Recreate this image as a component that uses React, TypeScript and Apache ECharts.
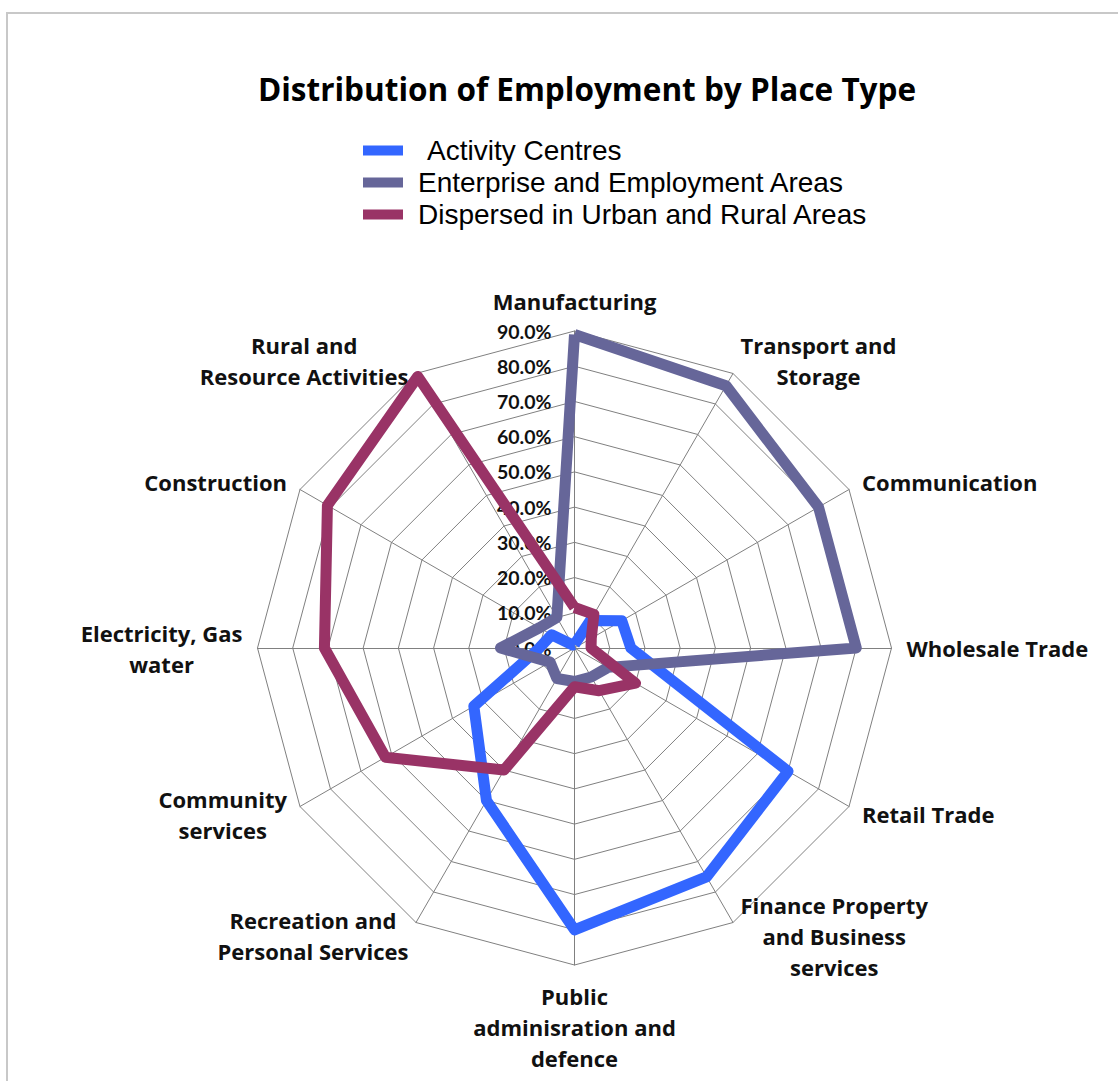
import React, { useEffect, useRef } from "react";
import * as echarts from "echarts";

// Categories in clockwise order starting at the top
const categories = [
  "Manufacturing",
  "Transport and\nStorage",
  "Communication",
  "Wholesale Trade",
  "Retail Trade",
  "Finance Property\nand Business\nservices",
  "Public\nadminisration and\ndefence",
  "Recreation and\nPersonal Services",
  "Community\nservices",
  "Electricity, Gas\nwater",
  "Construction",
  "Rural and\nResource Activities",
];

const seriesNames = [
  "Activity Centres",
  "Enterprise and Employment Areas",
  "Dispersed in Urban and Rural Areas",
];

// Values (share, 0..1) in the same clockwise order as categories
const activityCentres = [0.01, 0.09, 0.155, 0.16, 0.70, 0.75, 0.80, 0.50, 0.33, 0.10, 0.075, 0.01];
const enterpriseAreas = [0.89, 0.86, 0.80, 0.80, 0.11, 0.095, 0.095, 0.10, 0.08, 0.21, 0.115, 0.10];
const dispersedAreas = [0.115, 0.11, 0.055, 0.047, 0.20, 0.14, 0.11, 0.40, 0.62, 0.71, 0.81, 0.89];

const axisMin = 0;
const axisMax = 0.9;
const splitCount = 9;

const colors = ["#3366FF", "#666699", "#993366"];

// ECharts lays radar indicators out counter-clockwise; the reference runs clockwise.
function toCCW<T>(arr: T[]): T[] {
  return [arr[0], ...arr.slice(1).reverse()];
}

const nameFont = "'Open Sans', Lato, sans-serif";
const tickFont = "Lato, 'Open Sans', sans-serif";
const legendFont = "'Liberation Sans', Arial, sans-serif";

export default function App() {
  const ref = useRef<HTMLDivElement>(null);

  useEffect(() => {
    if (!ref.current) return;
    const chart = echarts.init(ref.current, undefined, { renderer: "svg" });

    const indicator = toCCW(categories).map((name, i) => {
      const ind: any = { name, min: axisMin, max: axisMax };
      if (i === 0) {
        ind.axisLabel = {
          show: true,
          formatter: (v: number) => (v * 100).toFixed(1) + "%",
          fontFamily: tickFont,
          fontWeight: "bold",
          fontSize: 19.5,
          color: "#111",
          margin: 23,
        };
      }
      return ind;
    });

    const valueSets = [activityCentres, enterpriseAreas, dispersedAreas];

    const option: any = {
      animation: false,
      backgroundColor: "#ffffff",
      title: {
        text: "Distribution of Employment by Place Type",
        left: 587,
        top: 72,
        padding: 0,
        textAlign: "center",
        textStyle: {
          fontFamily: nameFont,
          fontWeight: "bold",
          fontSize: 31.5,
          color: "#000",
        },
      },
      legend: {
        orient: "vertical",
        left: 363,
        top: 135,
        padding: 0,
        itemWidth: 40,
        itemHeight: 10,
        itemGap: 1,
        icon: "rect",
        data: seriesNames,
        formatter: (name: string) =>
          name === seriesNames[0] ? `{a|${name}}` : `{b|${name}}`,
        textStyle: {
          fontFamily: legendFont,
          fontSize: 28,
          color: "#000",
          lineHeight: 31,
          rich: {
            a: { padding: [0, 0, 0, 19], fontSize: 28, lineHeight: 31, fontFamily: legendFont },
            b: { padding: [0, 0, 0, 10], fontSize: 28, lineHeight: 31, fontFamily: legendFont },
          },
        },
      },
      graphic: [
        {
          type: "rect",
          silent: true,
          shape: { x: 7, y: 13, width: 1300, height: 1300 },
          style: { fill: "none", stroke: "#c8c8c8", lineWidth: 2 },
        },
      ],
      radar: {
        center: [574.5, 648],
        radius: 317,
        startAngle: 90,
        splitNumber: splitCount,
        shape: "polygon",
        axisNameGap: 15,
        axisName: {
          color: "#111",
          fontFamily: nameFont,
          fontWeight: "bold",
          fontSize: 22,
          lineHeight: 31,
          formatter: (name: string) =>
            name
              .split("\n")
              .map((l) => `{c|${l}}`)
              .join("\n"),
          rich: {
            c: {
              align: "center",
              color: "#111",
              fontFamily: nameFont,
              fontWeight: "bold",
              fontSize: 22,
              lineHeight: 31,
            },
          },
        },
        splitLine: { lineStyle: { color: "#808080", width: 1 } },
        splitArea: { show: false },
        axisLine: { lineStyle: { color: "#808080", width: 1 } },
        axisTick: { show: false },
        indicator,
      },
      series: seriesNames.map((name, s) => ({
        name,
        type: "radar",
        symbol: "none",
        z: 2 + s,
        itemStyle: { color: colors[s] },
        lineStyle: { color: colors[s], width: 11 },
        data: [{ name, value: toCCW(valueSets[s]) }],
      })),
    };

    chart.setOption(option);
    return () => chart.dispose();
  }, []);

  return (
    <div
      ref={ref}
      style={{ position: "absolute", left: 0, top: 0, width: 1118, height: 1081, background: "#fff" }}
    />
  );
}
